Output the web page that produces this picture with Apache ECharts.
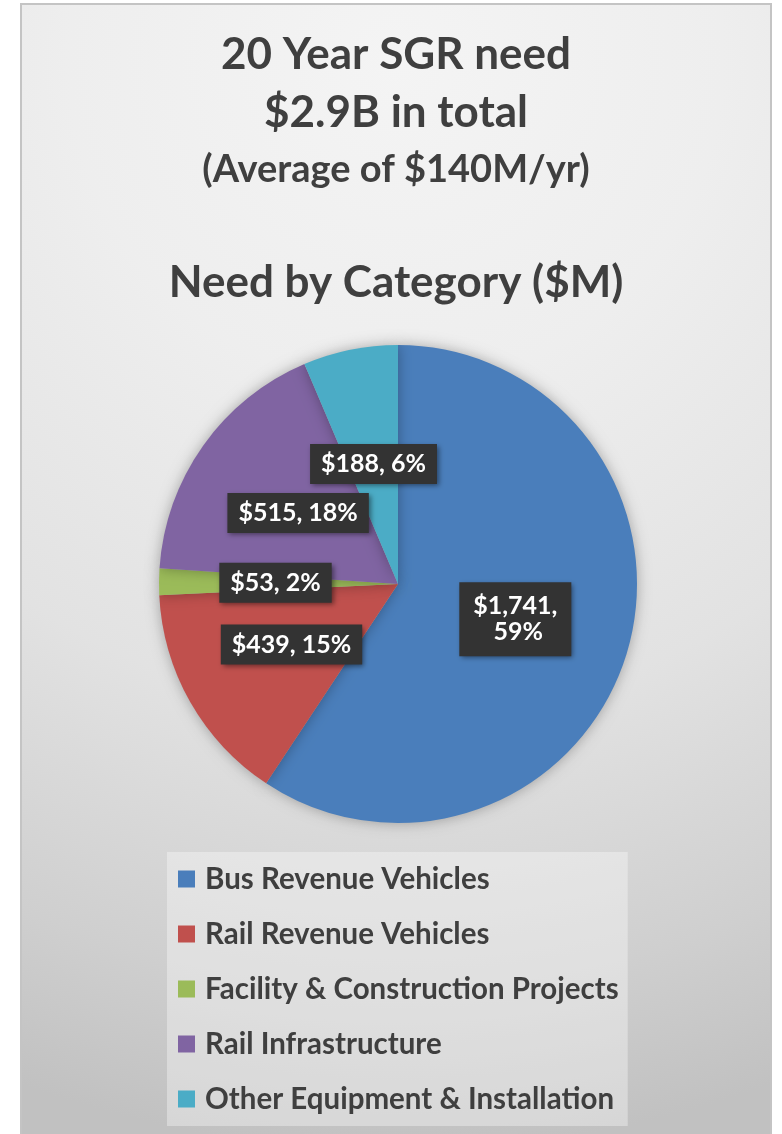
<!DOCTYPE html>
<html>
<head>
<meta charset="utf-8">
<script src="https://cdn.jsdelivr.net/npm/echarts@6/dist/echarts.min.js"></script>
<style>
  html, body { margin: 0; padding: 0; background: #fff; }
  #chart { position: absolute; left: 20px; top: 3px; width: 752px; height: 1131px; }
</style>
</head>
<body>
<div id="chart"></div>
<script>
// data
const categories = ['Bus Revenue Vehicles', 'Rail Revenue Vehicles', 'Facility & Construction Projects', 'Rail Infrastructure', 'Other Equipment & Installation'];
const needM = [1741, 439, 53, 515, 188];
const colors = ['#4a7ebb', '#c0504d', '#9bbb59', '#8064a2', '#4bacc6'];
const titleLines = ['20 Year SGR need', '$2.9B in total', '(Average of $140M/yr)', 'Need by Category ($M)'];

const FONT = 'Lato';
const TXT = '#3f3f3f';

const myChart = echarts.init(document.getElementById('chart'));

const pieData = categories.map((c, i) => {
    const d = { name: c, value: needM[i], itemStyle: { color: colors[i] } };
    // excel wraps the big one onto two lines
    if (i === 0) d.label = { width: 90, overflow: 'break', padding: [11, 11] };
    return d;
});

const bigTitle = { fontFamily: FONT, fontSize: 44, fontWeight: 'bold', color: TXT };

const option = {
    animation: false,
    graphic: [{
        type: 'rect',
        z: -10,
        shape: { x: 1, y: 1, width: 750, height: 1140 },
        style: {
            fill: new echarts.graphic.RadialGradient(0.5, 0.05, 1.45, [
                { offset: 0, color: '#f4f4f4' },
                { offset: 0.3, color: '#eeeeee' },
                { offset: 0.6, color: '#e2e2e2' },
                { offset: 0.85, color: '#cfcfcf' },
                { offset: 1, color: '#c1c1c1' }
            ]),
            stroke: '#c4c4c4',
            lineWidth: 2
        }
    }],
    title: [
        { text: titleLines[0], left: 'center', top: 25, textStyle: bigTitle },
        { text: titleLines[1], left: 'center', top: 83, textStyle: bigTitle },
        { text: titleLines[2], left: 'center', top: 143, textStyle: { fontFamily: FONT, fontSize: 38, fontWeight: 'bold', color: TXT } },
        { text: titleLines[3], left: 'center', top: 253, textStyle: bigTitle }
    ],
    legend: {
        orient: 'vertical',
        left: 147,
        top: 849,
        height: 320,
        data: categories,
        icon: 'rect',
        itemWidth: 17,
        itemHeight: 17,
        itemGap: 25,
        padding: [12, 9, 12, 11],
        backgroundColor: 'rgba(255,255,255,0.35)',
        selectedMode: false,
        textStyle: { fontFamily: FONT, fontSize: 29.5, fontWeight: 'bold', color: TXT, lineHeight: 30, padding: [0, 0, 0, 5] }
    },
    series: [{
        type: 'pie',
        center: [378, 581],
        radius: 239,
        startAngle: 90,
        clockwise: true,
        percentPrecision: 0,
        itemStyle: { shadowBlur: 14, shadowColor: 'rgba(0,0,0,0.3)' },
        label: {
            show: true,
            position: 'inside',
            formatter: p => '$' + p.value.toLocaleString('en-US') + ', ' + p.percent + '%',
            fontFamily: FONT,
            fontSize: 25,
            fontWeight: 'bold',
            color: '#fff',
            lineHeight: 26,
            align: 'center',
            backgroundColor: '#333333',
            padding: [7, 11],
            shadowColor: 'rgba(0,0,0,0.45)',
            shadowBlur: 5,
            shadowOffsetX: 2,
            shadowOffsetY: 2
        },
        labelLine: { show: false },
        emphasis: { disabled: true },
        data: pieData
    }]
};

option && myChart.setOption(option);
</script>
</body>
</html>
